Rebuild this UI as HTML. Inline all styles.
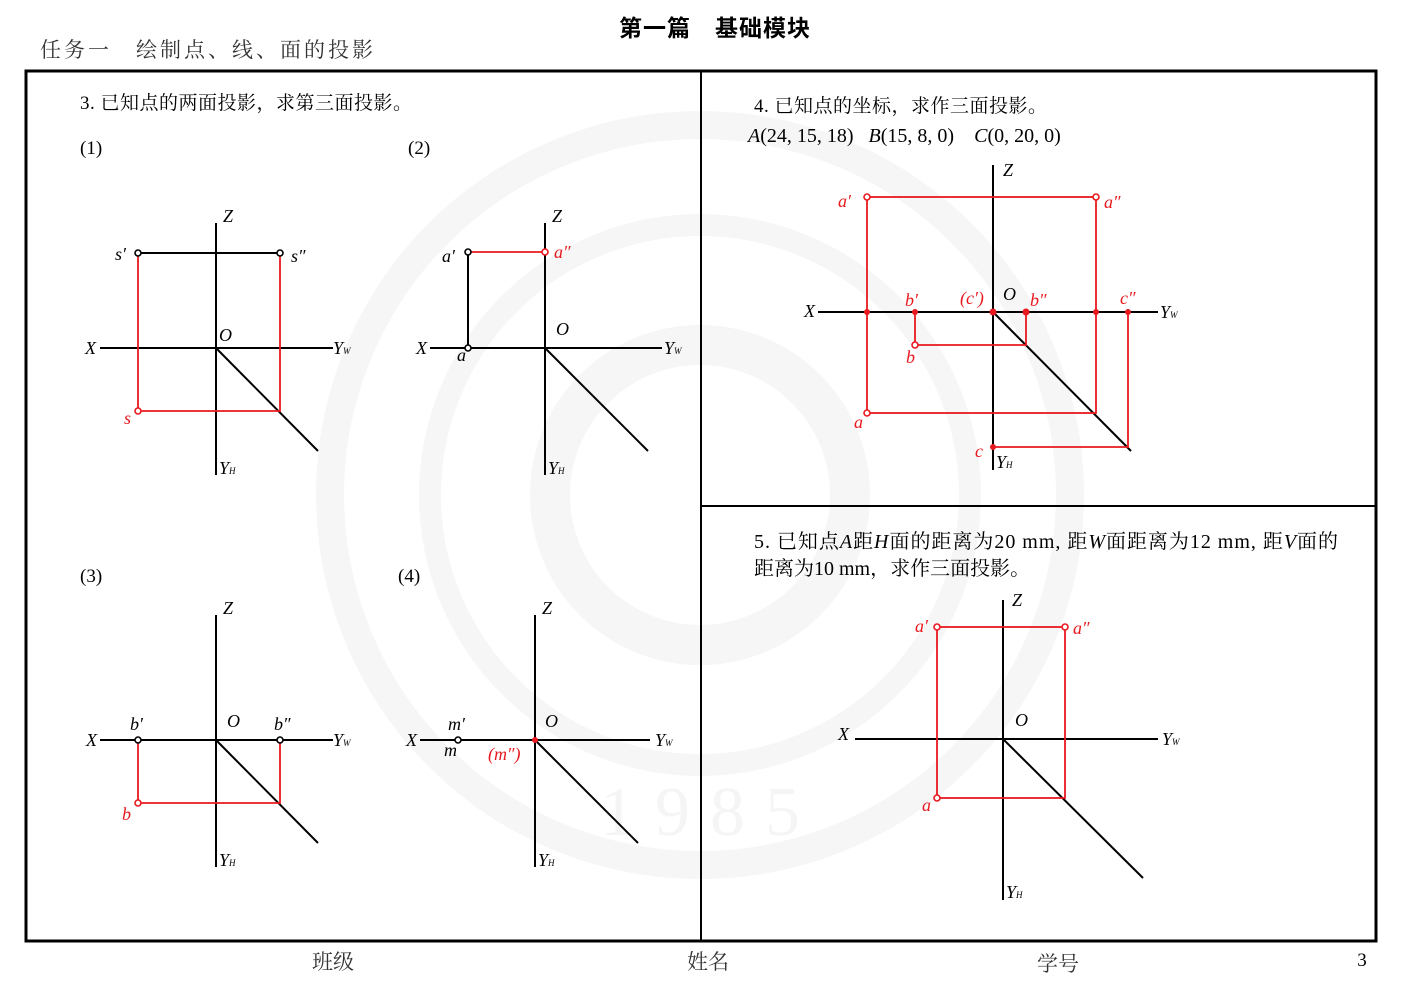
<!DOCTYPE html>
<html><head><meta charset="utf-8"><style>
html,body{margin:0;padding:0;background:#fff;}
svg{display:block;}
text{font-family:"Liberation Serif","Noto Serif CJK SC",serif;}
.k{stroke:#000;stroke-width:2;fill:none}
.r{stroke:#e8191f;stroke-width:1.8;fill:none}
.oc{fill:#fff;stroke:#000;stroke-width:1.6}
.or{fill:#fff;stroke:#e8191f;stroke-width:1.6}
.dr{fill:#e8191f}
.l{font-size:18px;font-style:italic;fill:#000}
.lr{font-size:18px;font-style:italic;fill:#e8191f}
.t{font-size:19px;fill:#000}
</style></head><body>
<svg width="1403" height="992" viewBox="0 0 1403 992" xmlns="http://www.w3.org/2000/svg">
<g fill="none" stroke="#f6f6f6">
<circle cx="700" cy="495" r="370" stroke-width="28"/>
<circle cx="700" cy="495" r="270" stroke-width="22"/>
<circle cx="700" cy="495" r="150" stroke-width="40"/>
</g>
<text x="600" y="835" font-size="70" fill="#f5f5f5" style="letter-spacing:20px">1985</text>

<text x="715" y="36" text-anchor="middle" style="font-family:'Liberation Sans','Noto Sans CJK SC',sans-serif;font-weight:bold;font-size:23px;letter-spacing:1px">第一篇　基础模块</text>
<text x="40" y="57" font-size="21" fill="#333" style="letter-spacing:3px">任务一　绘制点、线、面的投影</text>

<rect x="26" y="71" width="1350" height="870" fill="none" stroke="#000" stroke-width="3"/>
<line x1="701" y1="71" x2="701" y2="941" stroke="#000" stroke-width="2"/>
<line x1="701" y1="506" x2="1376" y2="506" stroke="#000" stroke-width="2"/>

<text x="80" y="109" class="t" style="letter-spacing:0.5px">3. 已知点的两面投影，求第三面投影。</text>
<text x="80" y="154" class="t">(1)</text>
<text x="408" y="154" class="t">(2)</text>
<text x="80" y="582" class="t">(3)</text>
<text x="398" y="582" class="t">(4)</text>

<!-- (1) -->
<line class="k" x1="216" y1="223" x2="216" y2="475"/>
<line class="k" x1="100" y1="348" x2="333" y2="348"/>
<line class="k" x1="216" y1="348" x2="318" y2="451"/>
<line class="k" x1="138" y1="253" x2="280" y2="253"/>
<polyline class="r" points="138,253 138,411 280,411 280,253"/>
<circle class="oc" cx="138" cy="253" r="3"/><circle class="oc" cx="280" cy="253" r="3"/>
<circle class="or" cx="138" cy="411" r="3"/>
<text x="223" y="222" class="l" font-size="15">Z</text>
<text x="85" y="354" class="l">X</text>
<text x="219" y="341" class="l" font-size="20">O</text>
<text x="333" y="354" class="l" font-size="15">Y<tspan font-size="9">W</tspan></text>
<text x="219" y="474" class="l" font-size="14">Y<tspan font-size="9">H</tspan></text>
<text x="115" y="260" class="l">s′</text>
<text x="291" y="262" class="l">s″</text>
<text x="124" y="424" class="lr" font-size="13">s</text>

<!-- (2) -->
<line class="k" x1="545" y1="223" x2="545" y2="475"/>
<line class="k" x1="430" y1="348" x2="662" y2="348"/>
<line class="k" x1="545" y1="348" x2="648" y2="451"/>
<line class="k" x1="468" y1="252" x2="468" y2="348"/>
<line class="r" x1="468" y1="252" x2="545" y2="252"/>
<circle class="oc" cx="468" cy="252" r="3"/><circle class="oc" cx="468" cy="348" r="3"/>
<circle class="or" cx="545" cy="252" r="3"/>
<text x="552" y="222" class="l" font-size="15">Z</text>
<text x="416" y="354" class="l">X</text>
<text x="556" y="335" class="l" font-size="15">O</text>
<text x="664" y="354" class="l" font-size="15">Y<tspan font-size="9">W</tspan></text>
<text x="548" y="474" class="l" font-size="14">Y<tspan font-size="9">H</tspan></text>
<text x="442" y="262" class="l">a′</text>
<text x="554" y="258" class="lr">a″</text>
<text x="457" y="361" class="l" font-size="13">a</text>

<!-- (3) -->
<line class="k" x1="216" y1="615" x2="216" y2="867"/>
<line class="k" x1="100" y1="740" x2="333" y2="740"/>
<line class="k" x1="216" y1="740" x2="318" y2="843"/>
<polyline class="r" points="138,740 138,803 280,803 280,740"/>
<circle class="oc" cx="138" cy="740" r="3"/><circle class="oc" cx="280" cy="740" r="3"/>
<circle class="or" cx="138" cy="803" r="3"/>
<text x="223" y="614" class="l" font-size="15">Z</text>
<text x="86" y="746" class="l">X</text>
<text x="227" y="727" class="l" font-size="15">O</text>
<text x="333" y="746" class="l" font-size="15">Y<tspan font-size="9">W</tspan></text>
<text x="219" y="866" class="l" font-size="14">Y<tspan font-size="9">H</tspan></text>
<text x="130" y="730" class="l">b′</text>
<text x="274" y="730" class="l">b″</text>
<text x="122" y="820" class="lr" font-size="15">b</text>

<!-- (4) -->
<line class="k" x1="535" y1="615" x2="535" y2="867"/>
<line class="k" x1="420" y1="740" x2="650" y2="740"/>
<line class="k" x1="535" y1="740" x2="638" y2="843"/>
<circle class="oc" cx="458" cy="740" r="3"/>
<circle class="dr" cx="535" cy="740" r="3"/>
<text x="542" y="614" class="l" font-size="15">Z</text>
<text x="406" y="746" class="l">X</text>
<text x="545" y="727" class="l" font-size="15">O</text>
<text x="655" y="746" class="l" font-size="15">Y<tspan font-size="9">W</tspan></text>
<text x="538" y="866" class="l" font-size="14">Y<tspan font-size="9">H</tspan></text>
<text x="448" y="730" class="l">m′</text>
<text x="444" y="756" class="l" font-size="13">m</text>
<text x="488" y="760" class="lr">(m″)</text>

<!-- 4. -->
<text x="754" y="112" class="t" style="letter-spacing:0.5px">4. 已知点的坐标，求作三面投影。</text>
<text x="748" y="142" font-size="20" xml:space="preserve"><tspan font-style="italic">A</tspan>(24, 15, 18)   <tspan font-style="italic">B</tspan>(15, 8, 0)    <tspan font-style="italic">C</tspan>(0, 20, 0)</text>
<line class="k" x1="993" y1="165" x2="993" y2="470"/>
<line class="k" x1="818" y1="312" x2="1158" y2="312"/>
<line class="k" x1="993" y1="312" x2="1131" y2="451"/>
<rect class="r" x="867" y="197" width="229" height="216"/>
<polyline class="r" points="915,312 915,345 1026,345 1026,312"/>
<polyline class="r" points="993,447 1128,447 1128,312"/>
<circle class="or" cx="867" cy="197" r="3"/><circle class="or" cx="1096" cy="197" r="3"/>
<circle class="or" cx="867" cy="413" r="3"/><circle class="or" cx="915" cy="345" r="3"/>
<g class="dr"><circle cx="867" cy="312" r="3"/><circle cx="915" cy="312" r="3"/><circle cx="993" cy="312" r="3.5"/><circle cx="1026" cy="312" r="3.5"/><circle cx="1096" cy="312" r="3"/><circle cx="1128" cy="312" r="3"/><circle cx="993" cy="447" r="3"/></g>
<text x="1003" y="176" class="l" font-size="15">Z</text>
<text x="804" y="317" class="l">X</text>
<text x="1003" y="300" class="l" font-size="15">O</text>
<text x="1160" y="318" class="l" font-size="15">Y<tspan font-size="9">W</tspan></text>
<text x="996" y="468" class="l" font-size="14">Y<tspan font-size="9">H</tspan></text>
<text x="838" y="207" class="lr">a′</text>
<text x="1104" y="208" class="lr">a″</text>
<text x="905" y="306" class="lr">b′</text>
<text x="960" y="304" class="lr">(c′)</text>
<text x="1030" y="306" class="lr">b″</text>
<text x="1120" y="304" class="lr">c″</text>
<text x="906" y="363" class="lr" font-size="14">b</text>
<text x="854" y="428" class="lr" font-size="14">a</text>
<text x="975" y="457" class="lr" font-size="14">c</text>

<!-- 5. -->
<text x="754" y="548" font-size="20" textLength="584" lengthAdjust="spacing">5. 已知点<tspan font-style="italic">A</tspan>距<tspan font-style="italic">H</tspan>面的距离为20 mm, 距<tspan font-style="italic">W</tspan>面距离为12 mm, 距<tspan font-style="italic">V</tspan>面的</text>
<text x="754" y="575" font-size="20">距离为10 mm，求作三面投影。</text>
<line class="k" x1="1003" y1="600" x2="1003" y2="900"/>
<line class="k" x1="855" y1="739" x2="1158" y2="739"/>
<line class="k" x1="1003" y1="739" x2="1143" y2="878"/>
<rect class="r" x="937" y="627" width="128" height="171"/>
<circle class="or" cx="937" cy="627" r="3"/><circle class="or" cx="1065" cy="627" r="3"/><circle class="or" cx="937" cy="798" r="3"/>
<text x="1012" y="606" class="l" font-size="15">Z</text>
<text x="838" y="740" class="l" font-size="15">X</text>
<text x="1015" y="726" class="l" font-size="15">O</text>
<text x="1162" y="745" class="l" font-size="15">Y<tspan font-size="9">W</tspan></text>
<text x="1006" y="898" class="l" font-size="14">Y<tspan font-size="9">H</tspan></text>
<text x="915" y="632" class="lr">a′</text>
<text x="1073" y="634" class="lr">a″</text>
<text x="922" y="811" class="lr" font-size="14">a</text>

<text x="333" y="969" text-anchor="middle" font-size="21" fill="#333">班级</text>
<text x="708" y="969" text-anchor="middle" font-size="21" fill="#333">姓名</text>
<text x="1058" y="971" text-anchor="middle" font-size="21" fill="#333">学号</text>
<text x="1362" y="966" text-anchor="middle" font-size="19">3</text>
</svg>
</body></html>
